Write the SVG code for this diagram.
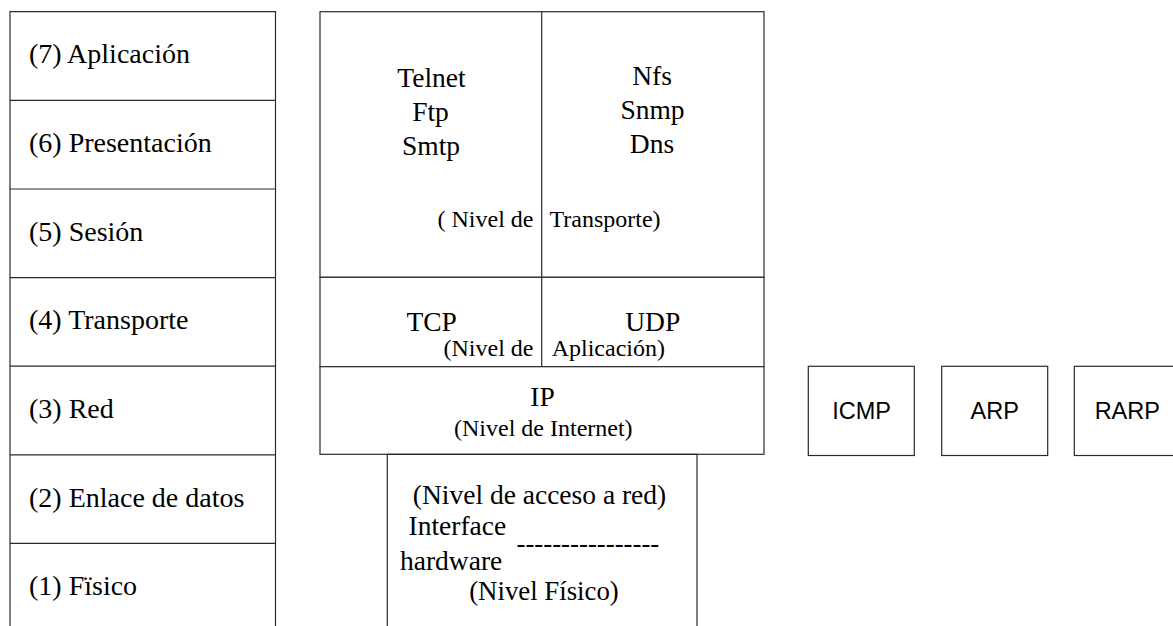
<svg xmlns="http://www.w3.org/2000/svg" width="1173" height="626" viewBox="0 0 1173 626">
  <style>
    .box { fill: #ffffff; stroke: #2a2a2a; stroke-width: 1.2; }
    .ln { stroke: #2a2a2a; stroke-width: 1.2; fill: none; }
    .mid { text-anchor: middle; }
    .note { font-size: 24px; }
  </style>
  <rect width="1173" height="626" fill="#ffffff"/>

  <!-- OSI reference model column -->
  <g id="osi-model" font-family="Liberation Serif, Times New Roman, serif" font-size="28" fill="#000">
    <path class="ln" d="M10 640 V11.7 H275.5 V640"/>
    <path class="ln" d="M10 100.4 H275.5 M10 189 H275.5 M10 277.6 H275.5 M10 366.2 H275.5 M10 454.8 H275.5 M10 543.4 H275.5"/>
    <text x="29" y="63">(7) Aplicación</text>
    <text x="29" y="152">(6) Presentación</text>
    <text x="29" y="240.5">(5) Sesión</text>
    <text x="29" y="329">(4) Transporte</text>
    <text x="29" y="418">(3) Red</text>
    <text x="29" y="506.5">(2) Enlace de datos</text>
    <text x="29" y="595">(1) Fïsico</text>
  </g>

  <!-- TCP/IP stack: application services -->
  <g id="app-layer" font-family="Liberation Serif, Times New Roman, serif" font-size="27.5" fill="#000">
    <rect class="box" x="320" y="11.7" width="444" height="265.6"/>
    <line class="ln" x1="541.7" y1="11.7" x2="541.7" y2="277.3"/>
    <text class="mid" x="431.5" y="87">Telnet</text>
    <text class="mid" x="430.5" y="121">Ftp</text>
    <text class="mid" x="431" y="155">Smtp</text>
    <text class="mid" x="652" y="85">Nfs</text>
    <text class="mid" x="652.5" y="119">Snmp</text>
    <text class="mid" x="652" y="153">Dns</text>
    <text class="note" x="437.5" y="227">( Nivel de</text>
    <text class="note" x="549.5" y="227">Transporte)</text>
  </g>

  <!-- TCP/IP stack: transport protocols -->
  <g id="transport-layer" font-family="Liberation Serif, Times New Roman, serif" font-size="27.5" fill="#000">
    <rect class="box" x="320" y="277.3" width="444" height="89.4"/>
    <line class="ln" x1="541.7" y1="277.3" x2="541.7" y2="366.7"/>
    <text class="mid" x="431.7" y="331">TCP</text>
    <text class="mid" x="652.7" y="331">UDP</text>
    <text class="note" x="443.5" y="356">(Nivel de</text>
    <text class="note" x="551.7" y="356">Aplicación)</text>
  </g>

  <!-- TCP/IP stack: internet layer -->
  <g id="internet-layer" font-family="Liberation Serif, Times New Roman, serif" font-size="27.5" fill="#000">
    <rect class="box" x="320" y="366.7" width="444" height="87.6"/>
    <text class="mid" x="542.5" y="406">IP</text>
    <text class="mid note" x="543.3" y="436">(Nivel de Internet)</text>
  </g>

  <!-- TCP/IP stack: network access -->
  <g id="access-layer" font-family="Liberation Serif, Times New Roman, serif" font-size="27.5" fill="#000">
    <path class="ln" d="M387.3 640 V454.3 H697 V640"/>
    <text class="mid" x="539.5" y="503.5">(Nivel de acceso a red)</text>
    <text x="408.5" y="535">Interface</text>
    <text x="516.5" y="552" font-size="26.8">----------------</text>
    <text x="400" y="570">hardware</text>
    <text class="mid" x="544" y="600" font-size="26.8">(Nivel Físico)</text>
  </g>

  <!-- Auxiliary internet protocols -->
  <g id="icmp" font-family="Liberation Sans, Arial, sans-serif" font-size="23.5" fill="#000">
    <rect class="box" x="808.3" y="366.3" width="106" height="89.2"/>
    <text class="mid" x="861.5" y="418.5">ICMP</text>
  </g>
  <g id="arp" font-family="Liberation Sans, Arial, sans-serif" font-size="23.5" fill="#000">
    <rect class="box" x="941.7" y="366.3" width="106" height="89.2"/>
    <text class="mid" x="994.7" y="418.5">ARP</text>
  </g>
  <g id="rarp" font-family="Liberation Sans, Arial, sans-serif" font-size="23.5" fill="#000">
    <rect class="box" x="1074.3" y="366.3" width="106" height="89.2"/>
    <text class="mid" x="1127.3" y="418.5">RARP</text>
  </g>

  <g id="connectors"></g>
</svg>
